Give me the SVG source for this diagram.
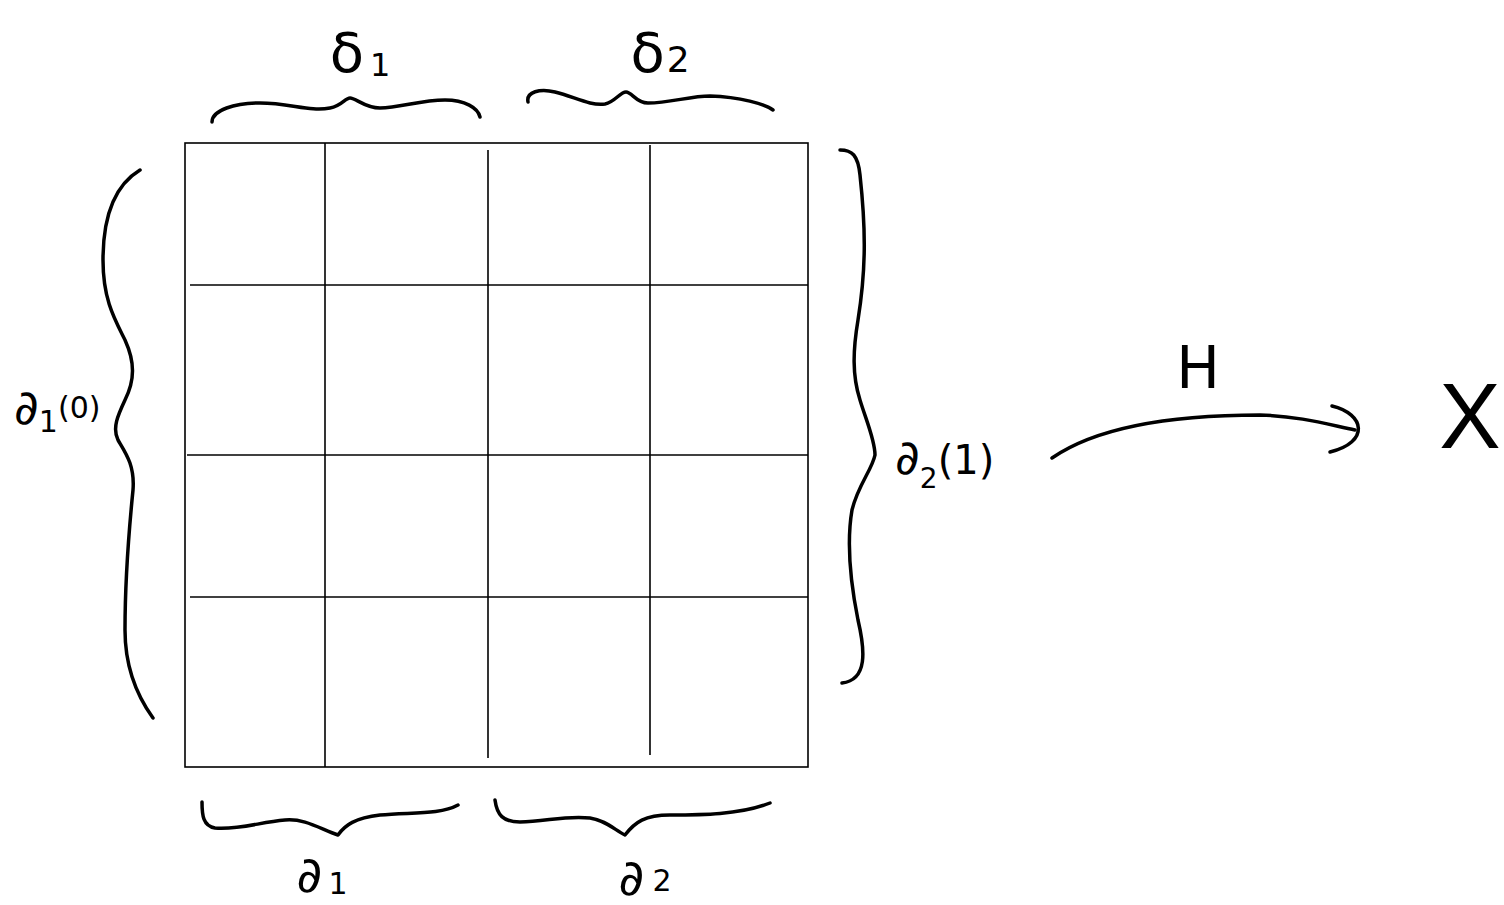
<svg xmlns="http://www.w3.org/2000/svg" width="1504" height="905" viewBox="0 0 1504 905">
<style>
.grid{stroke:#000;stroke-width:1.6;fill:none}
.brace{stroke:#000;stroke-width:3.5;fill:none;stroke-linecap:round;stroke-linejoin:round}
.lbl{font-family:"DejaVu Sans","Liberation Sans",sans-serif;fill:#000}
</style>
<rect width="1504" height="905" fill="#fff"/>
<g id="grid">
<rect class="grid" x="185" y="143" width="623" height="624"/>
<line class="grid" x1="325" y1="143" x2="325" y2="767"/>
<line class="grid" x1="488" y1="150" x2="488" y2="758"/>
<line class="grid" x1="650" y1="145" x2="650" y2="755"/>
<line class="grid" x1="190" y1="285" x2="808" y2="285"/>
<line class="grid" x1="187" y1="455" x2="808" y2="455"/>
<line class="grid" x1="190" y1="597" x2="808" y2="597"/>
</g>
<g id="brace-top-1">
<path class="brace" d="M212,122 C212,110 235,103 260,103 C290,103 310,112 330,108 C342,106 345,98 350,98 C356,98 365,108 380,108 C400,108 420,100 445,100 C465,100 478,108 480,117"/>
<text class="lbl" x="360" y="72" font-size="56" text-anchor="middle">δ<tspan font-size="32" dx="6" dy="4">1</tspan></text>
</g>
<g id="brace-top-2">
<path class="brace" d="M528,102 C526,92 540,88 555,92 C575,97 590,106 605,104 C615,102 620,92 626,92 C632,92 636,103 648,103 C670,103 690,96 710,96 C740,97 765,104 773,110"/>
<text class="lbl" x="660" y="72" font-size="56" text-anchor="middle">δ<tspan font-size="36" dx="2" dy="0">2</tspan></text>
</g>
<g id="brace-left">
<path class="brace" d="M140,170 C115,185 103,215 103,260 C103,300 115,320 125,340 C135,362 135,380 125,400 C118,415 112,428 118,440 C125,452 135,465 133,490 C128,540 125,580 125,630 C125,670 140,700 153,718"/>
<text class="lbl" x="14" y="424" font-size="48">∂<tspan font-size="30" dy="8">1</tspan><tspan font-size="30" dy="-14">(0)</tspan></text>
</g>
<g id="brace-right">
<path class="brace" d="M840,150 C852,150 858,155 860,175 C866,230 866,270 858,320 C853,350 852,375 860,400 C866,420 875,440 875,455 C872,470 858,485 852,510 C846,545 852,590 858,620 C865,650 868,680 842,683"/>
<text class="lbl" x="895" y="474" font-size="48">∂<tspan font-size="28" dy="14">2</tspan><tspan font-size="40" dy="-14">(1)</tspan></text>
</g>
<g id="brace-bottom-1">
<path class="brace" d="M202,802 C202,815 203,826 215,828 C240,830 260,822 285,820 C305,818 322,830 338,835 C345,825 355,818 380,815 C410,812 440,815 458,805"/>
<text class="lbl" x="322" y="892" font-size="50" text-anchor="middle">∂<tspan font-size="30" dx="6" dy="2">1</tspan></text>
</g>
<g id="brace-bottom-2">
<path class="brace" d="M495,800 C497,815 503,822 520,822 C545,822 565,815 590,818 C605,820 615,830 625,835 C635,822 645,815 670,815 C700,815 740,815 770,803"/>
<text class="lbl" x="645" y="895" font-size="50" text-anchor="middle">∂<tspan font-size="30" dx="8" dy="-4">2</tspan></text>
</g>
<g id="connectors">
<path class="brace" d="M1052,458 C1100,425 1180,415 1260,415 C1300,416 1330,425 1355,430"/>
<path class="brace" d="M1332,406 C1365,414 1370,442 1330,452"/>
</g>
<g id="label-H">
<text class="lbl" x="1198" y="388" font-size="58" font-family="Liberation Sans" text-anchor="middle">H</text>
</g>
<g id="node-X">
<text class="lbl" x="1470" y="448" font-size="92" text-anchor="middle" style="font-family:'Liberation Sans',sans-serif">X</text>
</g>
</svg>
